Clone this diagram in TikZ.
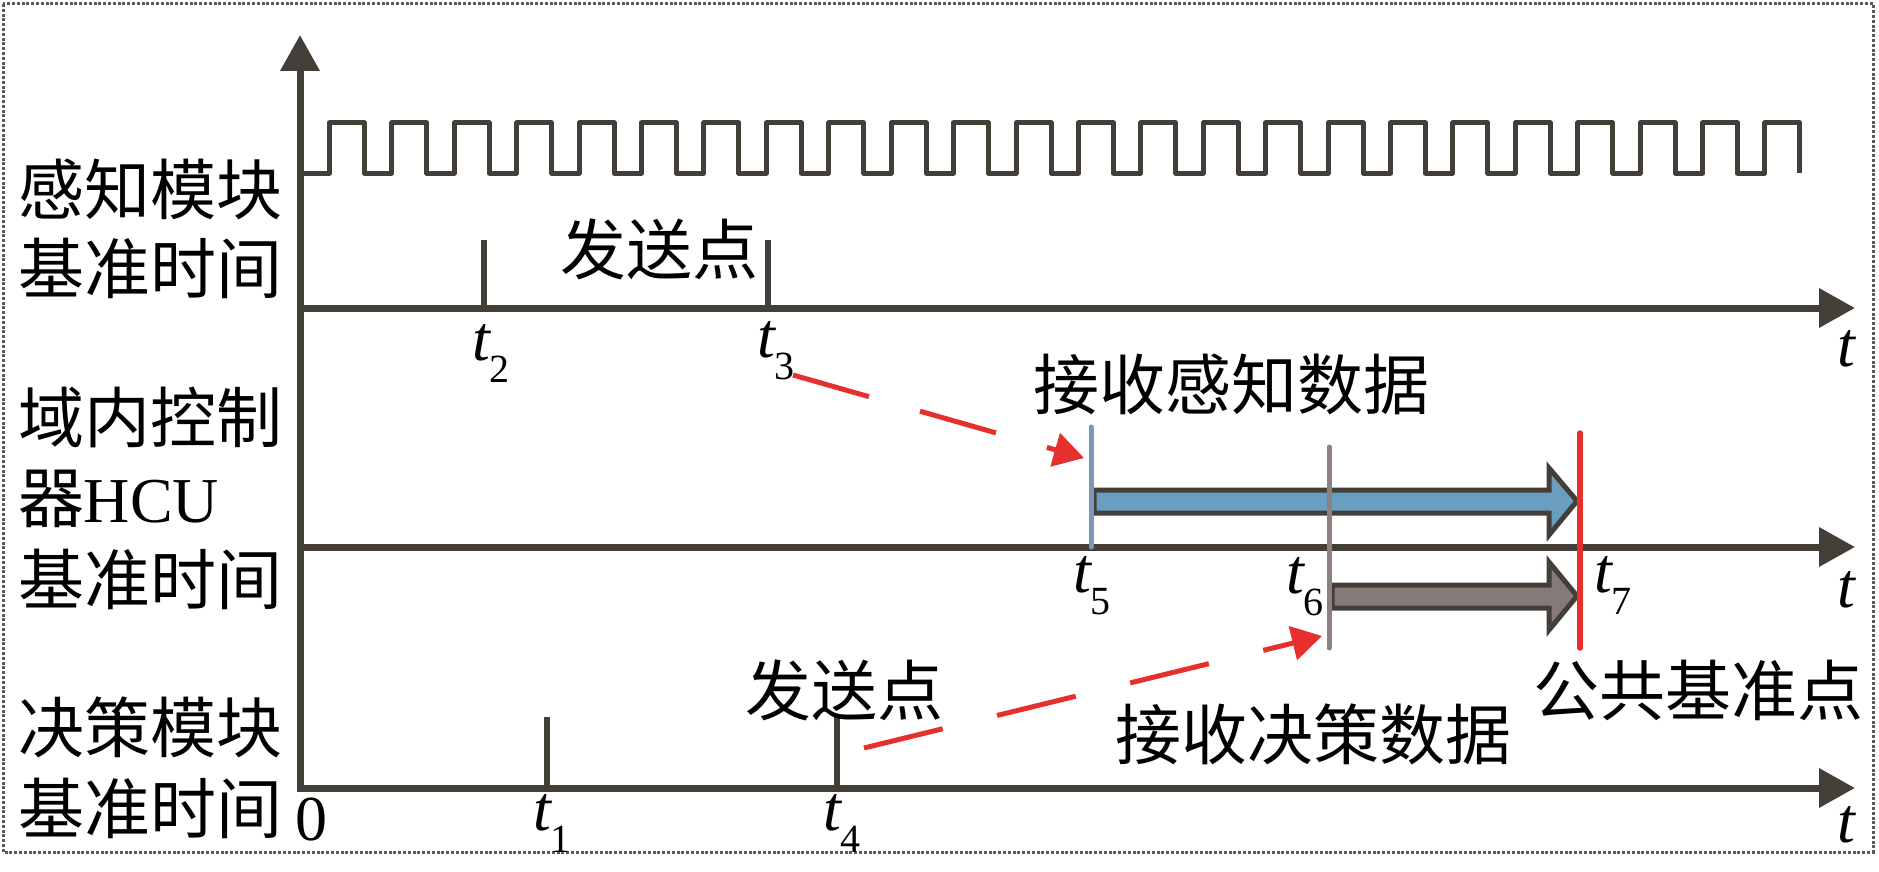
\documentclass[tikz,border=0pt]{standalone}
\usepackage{fontspec}
\setmainfont{Liberation Serif}
\newfontfamily\cjk{Noto Sans CJK SC}
\usetikzlibrary{arrows.meta}
\definecolor{axc}{RGB}{68,62,57}
\definecolor{bluef}{RGB}{106,158,192}
\definecolor{bluel}{RGB}{125,152,184}
\definecolor{grayl}{RGB}{140,128,128}
\definecolor{grayf}{RGB}{133,122,120}
\definecolor{redc}{RGB}{229,48,45}
\definecolor{bordc}{RGB}{90,90,90}
\newcommand{\tsub}[1]{{\itshape t}\raisebox{-22pt}{\fontsize{40}{40}\selectfont #1}}
\begin{document}
\begin{tikzpicture}[x=1pt,y=-1pt,
  axis/.style={draw=axc,line width=7pt,-{Triangle[length=36pt,width=38pt]}},
  tickmark/.style={draw=axc,line width=6pt},
  wave/.style={draw=axc,line width=5pt,line join=round},
  cjklab/.style={inner sep=0pt,outer sep=0pt,anchor=base west,font=\cjk\fontsize{66}{70}\selectfont},
  tlab/.style={inner sep=0pt,outer sep=0pt,anchor=base west,font=\fontsize{64}{70}\selectfont},
  redarrow/.style={draw=redc,line width=5pt,-{Triangle[length=30pt,width=34pt]}},
  fatarrow/.style={draw=axc,line width=5pt,line join=miter},
]
\useasboundingbox (0,0) rectangle (1879,872);
% frame
\draw[bordc,line width=3pt,dash pattern=on 3pt off 1.8pt] (3,4) rectangle (1873,852);

% axes
\coordinate (O) at (300,791);
\coordinate (Ytip) at (300,35);
\coordinate (A1s) at (297,308); \coordinate (A1e) at (1855,308);
\coordinate (A2s) at (297,547); \coordinate (A2e) at (1855,547);
\coordinate (A3s) at (297,788); \coordinate (A3e) at (1855,788);
\draw[axis] (O) -- (Ytip);
\draw[axis] (A1s) -- (A1e);
\draw[axis] (A2s) -- (A2e);
\draw[axis] (A3s) -- (A3e);

% square wave
\draw[wave] (300,173) \foreach \k in {0,...,23}{ -- ({329.5+\k*62.41},173) -- ++(0,-50) -- ++(35,0) -- ++(0,50) };

% ticks
\coordinate (k2b) at (484,308); \coordinate (k2t) at (484,240);
\coordinate (k3b) at (768,308); \coordinate (k3t) at (768,240);
\coordinate (k1b) at (547,788); \coordinate (k1t) at (547,717);
\coordinate (k4b) at (837,788); \coordinate (k4t) at (837,717);
\draw[tickmark] (k2b) -- (k2t);
\draw[tickmark] (k3b) -- (k3t);
\draw[tickmark] (k1b) -- (k1t);
\draw[tickmark] (k4b) -- (k4t);

% fat arrows
\draw[fatarrow,fill=bluef] (1094,490) -- (1549,490) -- (1549,468) -- (1577,501) -- (1549,535) -- (1549,513) -- (1094,513) -- cycle;
\draw[fatarrow,fill=grayf] (1332,585) -- (1549,585) -- (1549,562) -- (1577,596) -- (1549,630) -- (1549,608) -- (1332,608) -- cycle;

% vertical markers
\coordinate (b5t) at (1091,427); \coordinate (b5b) at (1091,547);
\coordinate (g6t) at (1329,447); \coordinate (g6b) at (1329,648);
\coordinate (r7t) at (1580,433); \coordinate (r7b) at (1580,648);
\draw[bluel,line width=5pt,line cap=round] (b5t) -- (b5b);
\draw[grayl,line width=5pt,line cap=round] (g6t) -- (g6b);
\draw[redc,line width=5.5pt,line cap=round] (r7t) -- (r7b);

% red dashed arrows
\coordinate (u0) at (793,375); \coordinate (u1) at (1084,458);
\coordinate (l0) at (864,748); \coordinate (l1) at (1322,636);
\draw[redarrow,dash pattern=on 79pt off 53pt] (u0) -- (u1);
\draw[redarrow,dash pattern=on 81pt off 56pt] (l0) -- (l1);

% left labels
\node[cjklab] (L1) at (18,214) {感知模块};
\node[cjklab] (L2) at (18,293) {基准时间};
\node[cjklab] (L3) at (18,442) {域内控制};
\node[cjklab] (L4) at (18,522) {器{\rmfamily\fontsize{64}{70}\selectfont HCU}};
\node[cjklab] (L5) at (18,604) {基准时间};
\node[cjklab] (L6) at (18,752) {决策模块};
\node[cjklab] (L7) at (18,833) {基准时间};

% other texts
\node[cjklab] (S1) at (560,274) {发送点};
\node[cjklab] (S2) at (745,715) {发送点};
\node[cjklab] (R1) at (1033,409) {接收感知数据};
\node[cjklab] (R2) at (1115,759) {接收决策数据};
\node[cjklab] (P) at (1533,715) {公共基准点};

% tick labels
\node[tlab] (T2) at (472,360) {\tsub{2}};
\node[tlab] (T3) at (757,357) {\tsub{3}};
\node[tlab] (T5) at (1073,592) {\tsub{5}};
\node[tlab] (T6) at (1286,593) {\tsub{6}};
\node[tlab] (T7) at (1594,592) {\tsub{7}};
\node[tlab] (T1) at (533,830) {\tsub{1}};
\node[tlab] (T4) at (823,830) {\tsub{4}};
\node[tlab] (Z) at (295,840) {0};
\node[tlab] (E1) at (1837,366) {\itshape t};
\node[tlab] (E2) at (1837,607) {\itshape t};
\node[tlab] (E3) at (1837,842) {\itshape t};
\end{tikzpicture}
\end{document}
